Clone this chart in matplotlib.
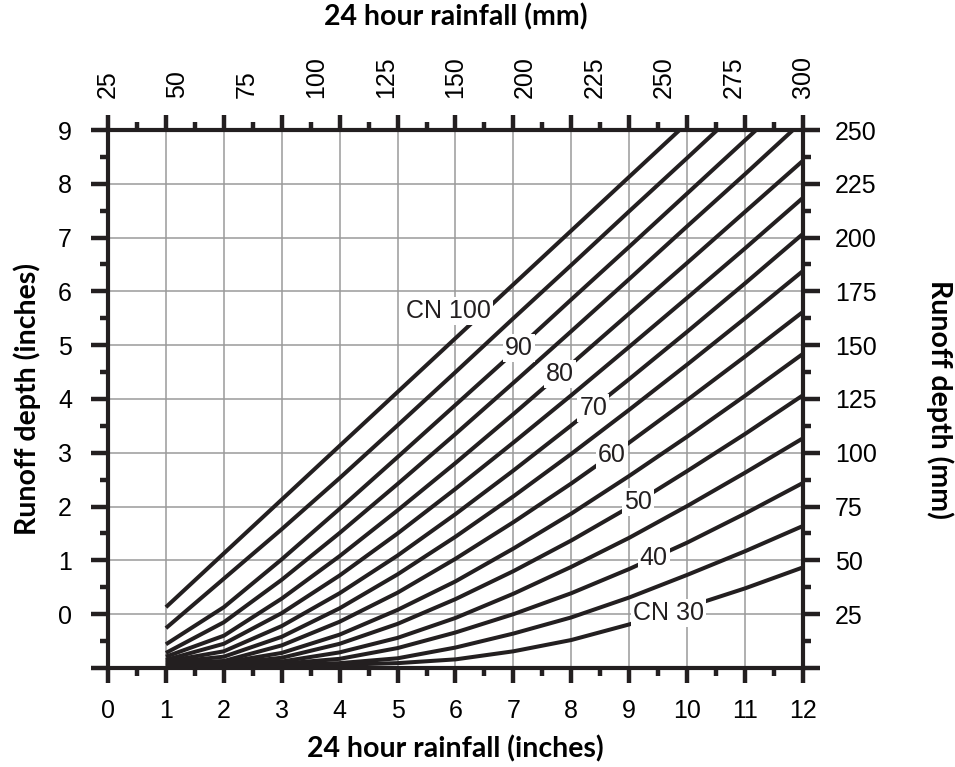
import matplotlib
matplotlib.use("Agg")
import matplotlib.pyplot as plt
import numpy as np

# 24 hour rainfall (inches) where each curve was read
rain_in = [1, 2, 3, 4, 5, 6, 7, 8, 9, 10, 11, 12]
cn_values = [100, 95, 90, 85, 80, 75, 70, 65, 60, 55, 50, 45, 40, 35, 30]

# runoff depth, in the chart's left-axis units (one row per CN)
runoff = [
    [0.13, 1.13, 2.13, 3.13, 4.13, 5.13, 6.13, 7.13, 8.13, 9.13, 10.13, 11.13],
    [-0.26, 0.66, 1.58, 2.53, 3.51, 4.50, 5.50, 6.49, 7.49, 8.48, 9.48, 10.47],
    [-0.56, 0.13, 1.02, 1.96, 2.92, 3.89, 4.86, 5.85, 6.83, 7.82, 8.81, 9.80],
    [-0.72, -0.15, 0.64, 1.51, 2.42, 3.35, 4.30, 5.26, 6.23, 7.21, 8.18, 9.17],
    [-0.79, -0.40, 0.29, 1.08, 1.93, 2.81, 3.72, 4.65, 5.59, 6.53, 7.48, 8.43],
    [-0.85, -0.55, 0.02, 0.72, 1.50, 2.33, 3.19, 4.07, 4.97, 5.88, 6.80, 7.74],
    [-0.88, -0.69, -0.22, 0.39, 1.09, 1.86, 2.67, 3.51, 4.37, 5.25, 6.15, 7.07],
    [-0.90, -0.79, -0.42, 0.11, 0.74, 1.44, 2.19, 2.98, 3.80, 4.64, 5.50, 6.38],
    [-0.91, -0.87, -0.58, -0.14, 0.40, 1.03, 1.71, 2.43, 3.19, 3.98, 4.79, 5.62],
    [-0.92, -0.90, -0.72, -0.38, 0.08, 0.61, 1.22, 1.87, 2.57, 3.30, 4.06, 4.84],
    [-0.93, -0.92, -0.81, -0.55, -0.18, 0.28, 0.80, 1.37, 1.99, 2.66, 3.35, 4.07],
    [-0.94, -0.93, -0.88, -0.71, -0.44, -0.07, 0.38, 0.88, 1.42, 2.01, 2.63, 3.27],
    [-0.95, -0.94, -0.92, -0.83, -0.63, -0.34, 0.00, 0.39, 0.84, 1.33, 1.87, 2.44],
    [-0.96, -0.95, -0.94, -0.91, -0.82, -0.62, -0.36, -0.06, 0.31, 0.73, 1.17, 1.64],
    [-0.96, -0.96, -0.95, -0.94, -0.91, -0.84, -0.69, -0.48, -0.19, 0.13, 0.48, 0.87],
]

x_ticks = list(range(0, 13))
y_ticks = list(range(0, 10))
right_mm = [25, 50, 75, 100, 125, 150, 175, 200, 225, 250]
top_mm = [25, 50, 75, 100, 125, 150, 200, 225, 250, 275, 300]

curve_labels = ["CN 100", "90", "80", "70", "60", "50", "40", "CN 30"]
label_cn = [100, 90, 80, 70, 60, 50, 40, 30]
label_x = [5.88, 7.09, 7.81, 8.38, 8.70, 9.15, 9.42, 9.68]

INK = "#231f20"
GRID = "#9a9a9a"
TICK_FONT = "Liberation Sans"
LABEL_FONT = "Lato"
TICK_SIZE = 18
LABEL_SIZE = 20.5

fig = plt.figure(figsize=(9.55, 7.67), dpi=100)
ax = fig.add_axes([0.1131, 0.1291, 0.7277, 0.7014])

for cn, ys in zip(cn_values, runoff):
    ax.plot(rain_in, ys, color=INK, lw=2.9, solid_capstyle="butt",
            solid_joinstyle="round", zorder=3)

for text, cn, lx in zip(curve_labels, label_cn, label_x):
    ys = runoff[cn_values.index(cn)]
    ly = np.interp(lx, rain_in, ys)
    if cn == 100:
        ly += 0.62
    ax.text(lx, ly, text, ha="center", va="center", fontsize=18,
            family=TICK_FONT, color=INK, zorder=5,
            bbox=dict(fc="white", ec="none", pad=1.5))

ax.set_xlim(0, 12)
ax.set_ylim(-1, 9)

ax.set_xticks(x_ticks)
ax.set_xticks(np.arange(0.5, 12, 1), minor=True)
ax.set_yticks([-1] + y_ticks)
ax.set_yticklabels([""] + [str(v) for v in y_ticks])
ax.set_yticks(np.arange(-0.5, 9, 1), minor=True)

ax.grid(True, which="major", color=GRID, lw=1.1, zorder=1)
ax.set_axisbelow(True)

for side in ["left", "right", "top", "bottom"]:
    ax.spines[side].set_linewidth(3.0)
    ax.spines[side].set_color(INK)
    ax.spines[side].set_zorder(6)

ax.tick_params(which="major", direction="out", length=12, width=3.2,
               color=INK, top=True, right=True, labeltop=False,
               labelright=False, labelsize=TICK_SIZE)
ax.tick_params(which="minor", direction="out", length=5.5, width=3.2,
               color=INK, top=True, right=True)
ax.tick_params(axis="y", which="major", pad=14)
ax.tick_params(axis="x", which="major", length=11, pad=11)
for lab in ax.get_xticklabels() + ax.get_yticklabels():
    lab.set_family(TICK_FONT)

# mm scales
top = ax.secondary_xaxis("top")
top.set_xticks(np.linspace(0, 12, len(top_mm)))
top.set_xticklabels([str(v) for v in top_mm], rotation=90, family=TICK_FONT,
                    fontsize=TICK_SIZE)
top.tick_params(length=0, pad=23)
top.spines["top"].set_visible(False)

right = ax.secondary_yaxis("right")
right.set_yticks(y_ticks)
right.set_yticklabels([str(v) for v in right_mm], family=TICK_FONT,
                      fontsize=TICK_SIZE)
right.tick_params(length=0, pad=23)
right.spines["right"].set_visible(False)

ax.set_xlabel("24 hour rainfall (inches)", family=LABEL_FONT,
              fontweight="bold", fontsize=LABEL_SIZE, labelpad=9)
ax.set_ylabel("Runoff depth (inches)", family=LABEL_FONT,
              fontweight="bold", fontsize=LABEL_SIZE, labelpad=12)
top.set_xlabel("24 hour rainfall (mm)", family=LABEL_FONT,
               fontweight="bold", fontsize=LABEL_SIZE, labelpad=22)
right.set_ylabel("Runoff depth (mm)", family=LABEL_FONT,
                 fontweight="bold", fontsize=LABEL_SIZE, rotation=-90,
                 labelpad=55)

fig.savefig("out.png", dpi=100)
